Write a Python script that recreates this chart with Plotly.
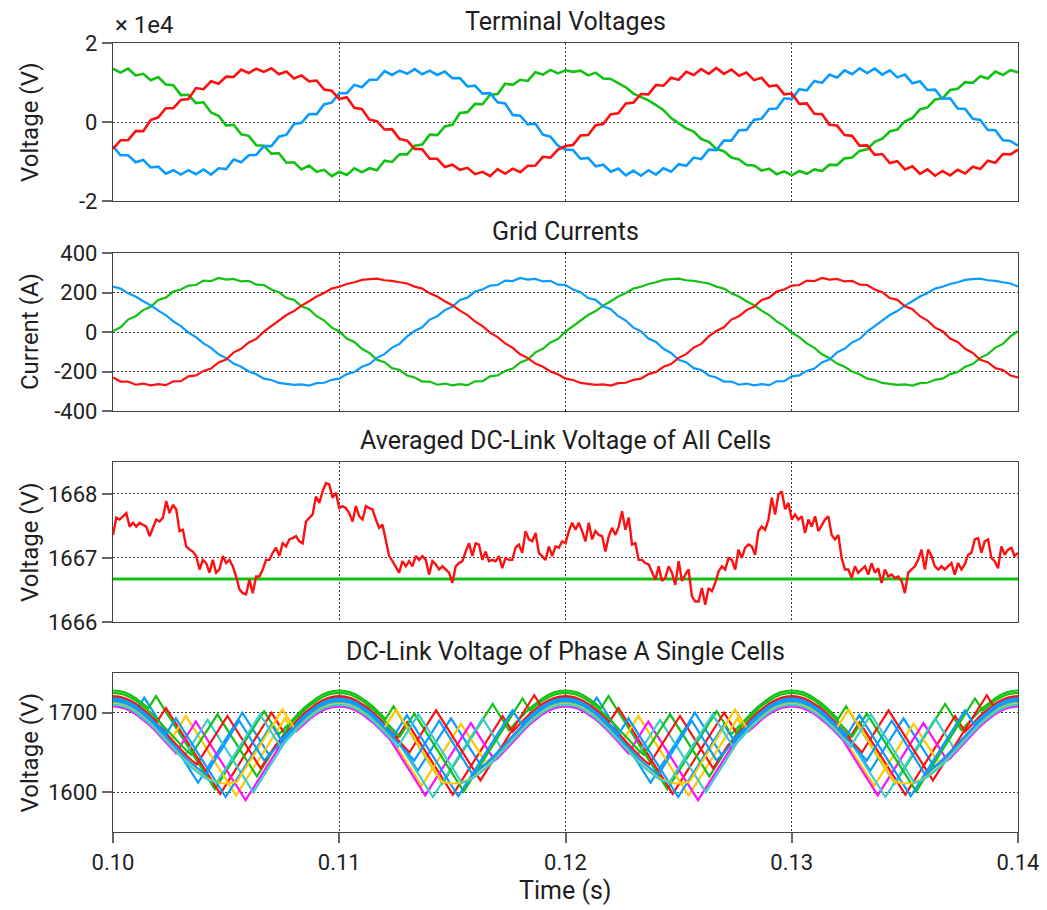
import numpy as np
import plotly.graph_objects as go
from plotly.subplots import make_subplots

# ---------------- data ----------------
# Panel 1: terminal voltages (units of 1e4 V), sampled every 1/3000 s from 0.10 to 0.14
VT_GREEN = [1.35,1.25,1.35,1.18,1.22,1.06,1.14,0.95,0.93,0.68,0.69,0.48,0.50,0.24,0.16,-0.09,-0.07,-0.31,-0.35,-0.59,
            -0.60,-0.80,-0.79,-1.03,-1.02,-1.20,-1.10,-1.26,-1.21,-1.37,-1.26,-1.34,-1.17,-1.27,-1.17,-1.22,-0.98,-1.01,-0.82,-0.82,
            -0.60,-0.57,-0.32,-0.33,-0.11,-0.07,0.23,0.25,0.46,0.45,0.69,0.71,0.97,0.94,1.07,1.04,1.26,1.20,1.32,1.23,
            1.31,1.27,1.30,1.18,1.25,1.10,1.09,0.98,0.88,0.72,0.63,0.55,0.43,0.30,0.10,-0.04,-0.16,-0.24,-0.43,-0.50,
            -0.68,-0.74,-0.90,-0.95,-1.09,-1.10,-1.23,-1.18,-1.32,-1.25,-1.35,-1.24,-1.31,-1.20,-1.24,-1.08,-1.09,-0.92,-0.90,-0.73,
            -0.69,-0.50,-0.42,-0.24,-0.19,0.02,0.10,0.32,0.37,0.57,0.60,0.81,0.84,1.01,0.99,1.16,1.10,1.28,1.19,1.31,
            1.26]
VT_RED = [-0.68,-0.46,-0.46,-0.23,-0.23,0.05,0.12,0.35,0.35,0.56,0.58,0.86,0.83,1.03,0.97,1.15,1.14,1.33,1.24,1.35,
          1.27,1.36,1.21,1.28,1.10,1.18,1.03,1.05,0.82,0.79,0.58,0.63,0.36,0.33,0.06,0.02,-0.19,-0.18,-0.43,-0.47,
          -0.68,-0.69,-0.93,-0.93,-1.14,-1.08,-1.21,-1.16,-1.32,-1.26,-1.37,-1.19,-1.31,-1.18,-1.27,-1.11,-1.10,-0.88,-0.90,-0.70,
          -0.61,-0.58,-0.34,-0.33,-0.08,-0.05,0.20,0.22,0.47,0.49,0.71,0.70,0.94,0.92,1.12,1.07,1.27,1.19,1.34,1.22,
          1.37,1.22,1.33,1.17,1.25,1.06,1.12,0.90,0.93,0.70,0.72,0.46,0.47,0.21,0.20,-0.07,-0.09,-0.33,-0.35,-0.60,
          -0.59,-0.83,-0.81,-1.04,-0.99,-1.20,-1.12,-1.31,-1.20,-1.36,-1.24,-1.35,-1.21,-1.30,-1.13,-1.19,-0.98,-1.03,-0.81,-0.82,
          -0.70]
VT_BLUE = [-0.61,-0.84,-0.84,-1.02,-0.96,-1.15,-1.13,-1.31,-1.22,-1.33,-1.22,-1.32,-1.20,-1.33,-1.17,-1.19,-0.95,-1.02,-0.84,-0.83,
           -0.61,-0.61,-0.37,-0.32,-0.05,-0.02,0.20,0.20,0.45,0.49,0.73,0.73,0.94,0.88,1.07,1.07,1.29,1.19,1.30,1.22,
           1.34,1.21,1.30,1.19,1.28,1.11,1.11,0.90,0.92,0.72,0.73,0.50,0.47,0.18,0.16,-0.06,-0.04,-0.32,-0.37,-0.60,
           -0.70,-0.71,-0.93,-0.91,-1.12,-1.08,-1.26,-1.18,-1.35,-1.23,-1.36,-1.22,-1.33,-1.17,-1.26,-1.07,-1.11,-0.90,-0.94,-0.70,
           -0.71,-0.47,-0.47,-0.21,-0.20,0.06,0.08,0.33,0.34,0.60,0.58,0.83,0.80,1.04,0.99,1.20,1.12,1.31,1.21,1.36,
           1.24,1.35,1.20,1.31,1.13,1.20,0.98,1.03,0.81,0.82,0.59,0.60,0.34,0.33,0.08,0.05,-0.20,-0.21,-0.46,-0.48,
           -0.60]

# Panel 2: grid currents (A), same sampling
IG_GREEN = [5,24,63,80,111,128,162,174,205,215,235,238,260,258,274,265,269,256,259,240,
            238,215,202,172,163,130,116,80,58,22,4,-33,-50,-85,-106,-141,-153,-183,-192,-220,
            -230,-251,-251,-267,-261,-270,-264,-269,-250,-249,-225,-220,-197,-185,-154,-139,-103,-85,-53,-35,
            2,30,57,86,106,134,156,180,198,220,229,243,252,264,268,270,262,259,252,246,
            230,220,196,180,156,136,108,86,54,30,-3,-26,-58,-80,-113,-132,-160,-176,-200,-214,
            -236,-243,-258,-262,-268,-265,-271,-259,-257,-242,-236,-213,-203,-176,-162,-131,-112,-79,-60,-22,
            4]
IG_RED = [-230,-251,-251,-267,-261,-270,-264,-269,-250,-249,-225,-220,-197,-185,-154,-139,-103,-85,-53,-35,
          2,30,57,86,106,134,156,180,198,220,229,243,252,264,268,270,262,259,252,246,
          230,220,196,180,156,136,108,86,54,30,-3,-26,-58,-80,-113,-132,-160,-176,-200,-214,
          -236,-243,-258,-262,-268,-265,-271,-259,-257,-242,-236,-213,-203,-176,-162,-131,-112,-79,-60,-22,
          5,24,63,80,111,128,162,174,205,215,235,238,260,258,274,265,269,256,259,240,
          238,215,202,172,163,130,116,80,58,22,4,-33,-50,-85,-106,-141,-153,-183,-192,-220,
          -230]
IG_BLUE = [230,220,196,180,156,136,108,86,54,30,-3,-26,-58,-80,-113,-132,-160,-176,-200,-214,
           -236,-243,-258,-262,-268,-265,-271,-259,-257,-242,-236,-213,-203,-176,-162,-131,-112,-79,-60,-22,
           5,24,63,80,111,128,162,174,205,215,235,238,260,258,274,265,269,256,259,240,
           238,215,202,172,163,130,116,80,58,22,4,-33,-50,-85,-106,-141,-153,-183,-192,-220,
           -230,-251,-251,-267,-261,-270,-264,-269,-250,-249,-225,-220,-197,-185,-154,-139,-103,-85,-53,-35,
           2,30,57,86,106,134,156,180,198,220,229,243,252,264,268,270,262,259,252,246,
           230]

# Panel 3: averaged DC-link voltage (V), evenly sampled over 0.10..0.14
AVG_RED = [1667.36,1667.63,1667.60,1667.65,1667.70,1667.49,1667.55,1667.49,1667.55,1667.52,1667.49,1667.34,1667.47,1667.60,1667.57,1667.63,1667.89,1667.70,1667.83,1667.76,
           1667.42,1667.44,1667.18,1667.13,1667.10,1667.03,1666.82,1666.97,1666.92,1666.77,1666.97,1666.77,1666.82,1667.03,1666.92,1666.97,1666.87,1666.71,1666.51,1666.45,
           1666.43,1666.66,1666.45,1666.71,1666.71,1666.82,1666.97,1666.97,1667.08,1667.16,1667.03,1667.23,1667.18,1667.29,1667.31,1667.34,1667.26,1667.23,1667.57,1667.63,
           1667.68,1667.96,1667.86,1668.04,1668.17,1668.15,1667.94,1668.02,1667.78,1667.81,1667.78,1667.70,1667.57,1667.81,1667.65,1667.60,1667.81,1667.78,1667.76,1667.60,
           1667.47,1667.52,1667.29,1667.03,1666.95,1666.87,1666.77,1666.95,1666.87,1666.95,1666.87,1667.03,1666.97,1667.03,1666.97,1666.74,1666.95,1666.90,1666.82,1666.87,
           1666.82,1666.77,1666.61,1666.87,1666.92,1666.95,1667.10,1667.23,1667.03,1667.23,1667.21,1666.97,1667.10,1666.95,1666.97,1666.95,1667.03,1666.84,1667.00,1666.97,
           1666.97,1667.16,1667.21,1667.08,1667.42,1667.29,1667.26,1667.39,1667.08,1667.03,1666.97,1667.18,1667.03,1667.18,1667.16,1667.26,
           1667.23,1667.42,1667.55,1667.44,1667.55,1667.42,1667.26,1667.55,1667.29,1667.42,1667.36,1667.34,1667.10,1667.34,1667.47,1667.36,1667.49,1667.73,1667.44,1667.63,
           1667.21,1667.23,1666.97,1666.97,1666.92,1666.90,1666.77,1666.66,1666.87,1666.64,1666.69,1666.87,1666.77,1666.58,1666.95,1666.64,1666.74,1666.82,1666.40,1666.32,
           1666.32,1666.53,1666.27,1666.53,1666.48,1666.61,1666.79,1666.87,1666.82,1667.00,1666.97,1666.82,1667.13,1667.00,1667.16,1667.21,1667.18,1667.05,1667.42,1667.49,
           1667.44,1667.60,1667.94,1667.68,1667.99,1668.04,1667.76,1667.86,1667.60,1667.68,1667.60,1667.65,1667.39,1667.60,1667.49,1667.65,1667.42,1667.52,1667.60,1667.65,
           1667.36,1667.29,1667.36,1667.00,1666.82,1666.82,1666.69,1666.87,1666.77,1666.82,1666.87,1666.74,1666.92,1666.77,1666.84,1666.61,1666.82,1666.71,1666.74,1666.69,
           1666.71,1666.64,1666.45,1666.77,1666.82,1666.87,1666.97,1667.13,1666.82,1667.13,1667.03,1666.87,1666.82,1666.87,1666.82,1666.87,1666.92,1666.74,1666.92,1666.82,
           1666.90,1667.05,1667.08,1667.29,1667.31,1667.08,1667.26,1667.29,1667.00,1666.95,1666.84,1667.18,1667.05,1667.13,1667.16,1667.03,1667.08]
AVG_REF_T = [0.10, 0.14]
AVG_REF_V = [1666.67, 1666.67]

# Panel 4: single-cell DC-link voltages of phase A
DIP_CENTER_MS = [105, 115, 125, 135]
DIP_PATTERN = ["A", "B", "A", "B"]
ENV_TAU_MS = [0, 0.25, 0.5, 0.75, 1.0, 1.25, 1.5, 1.75, 2.0, 2.25, 2.5, 2.75, 3.0, 3.25, 3.5, 3.75, 4.0, 4.25, 4.5, 4.75, 5.0]
ENV_DROP_V = [0, 0.6, 2.4, 5.4, 9.5, 14.6, 20.6, 27.3, 34.5, 42.2, 50.0, 57.8, 65.5, 72.7, 79.4, 85.4, 90.5, 95.0, 97.6, 99.4, 100.0]
CELL_COLORS = ["#0a9bff", "#12c212", "#ff1010", "#ffc800", "#ff10ff", "#3ccccc",
               "#12c212", "#ff1010", "#0a9bff", "#ffc800", "#0a9bff", "#3ccccc"]
CELL_PEAK_V = [1716, 1728, 1721, 1713, 1708, 1712, 1725, 1719, 1718, 1711, 1715, 1710]
TENT_A = [
    [(-3.93, 1705), (-3.62, 1719), (-1.24, 1612), (0.72, 1700), (1.90, 1647)],
    [(-3.43, 1706), (-3.10, 1721), (-0.50, 1604), (1.68, 1702), (2.33, 1673)],
    [(-3.05, 1689), (-2.66, 1706), (-0.26, 1598), (2.01, 1700), (2.58, 1674)],
    [(-2.50, 1663), (-1.78, 1696), (0.44, 1596), (2.60, 1693), (2.95, 1677)],
    [(-2.22, 1649), (-1.34, 1689), (0.86, 1590), (2.95, 1684), (3.10, 1677)],
    [(-1.87, 1644), (-0.82, 1691), (1.20, 1600), (2.75, 1670)],
    [(-1.54, 1647), (-0.38, 1698), (1.36, 1620), (2.83, 1686)],
    [(-1.30, 1635), (0.06, 1696), (1.53, 1630), (2.18, 1659)],
    [(-2.66, 1673), (-2.22, 1693), (-0.02, 1594), (2.00, 1685), (2.45, 1665)],
    [(0.47, 1613), (2.49, 1704), (3.05, 1679)],
    [(-0.90, 1622), (0.58, 1690), (1.68, 1640)],
    [(-0.42, 1612), (1.50, 1698), (2.41, 1657)],
]
TENT_B = [
    [(-2.18, 1656), (-1.53, 1627), (-0.06, 1693), (1.30, 1632)],
    [(-2.95, 1692), (-2.60, 1708), (-0.44, 1611), (1.78, 1711), (2.50, 1678)],
    [(-2.45, 1668), (-2.00, 1688), (0.02, 1597), (2.22, 1696), (2.66, 1676)],
    [(-2.83, 1674), (-1.36, 1608), (0.38, 1686), (1.54, 1635)],
    [(-2.75, 1666), (-1.20, 1596), (0.82, 1687), (1.87, 1640)],
    [(-3.10, 1681), (-2.95, 1688), (-0.86, 1594), (1.34, 1693), (2.22, 1653)],
    [(-2.33, 1670), (-1.68, 1699), (0.50, 1601), (3.10, 1718), (3.43, 1703)],
    [(-1.90, 1650), (-0.72, 1703), (1.24, 1615), (3.62, 1722), (3.93, 1708)],
    [(-2.58, 1671), (-2.01, 1697), (0.26, 1595), (2.66, 1703), (3.05, 1686)],
    [(-3.05, 1679), (-2.49, 1704), (-0.47, 1613)],
    [(-1.68, 1640), (-0.58, 1690), (0.90, 1622)],
    [(-2.41, 1657), (-1.50, 1698), (0.42, 1612)],
]

X_TICKS = [0.10, 0.11, 0.12, 0.13, 0.14]
X_TICK_TEXT = ["0.10", "0.11", "0.12", "0.13", "0.14"]
TITLES = ["Terminal Voltages", "Grid Currents", "Averaged DC-Link Voltage of All Cells",
          "DC-Link Voltage of Phase A Single Cells"]
Y_TITLES = ["Voltage (V)", "Current (A)", "Voltage (V)", "Voltage (V)"]

RED, GREEN, BLUE = "#ff1010", "#12c212", "#0a9bff"


def build_cell(i):
    peak = CELL_PEAK_V[i]
    ts, vs = [], []
    for c, pat in zip(DIP_CENTER_MS, DIP_PATTERN):
        verts = TENT_A[i] if pat == "A" else TENT_B[i]
        d_first, d_last = verts[0][0], verts[-1][0]
        for tau, drop in zip(ENV_TAU_MS, ENV_DROP_V):
            d = -5.0 + tau
            if d < d_first:
                ts.append(c + d); vs.append(peak - drop)
        for d, v in verts:
            ts.append(c + d); vs.append(v)
        for tau, drop in zip(ENV_TAU_MS[::-1], ENV_DROP_V[::-1]):
            d = 5.0 - tau
            if d > d_last:
                ts.append(c + d); vs.append(peak - drop)
    out_t, out_v = [], []
    for t, v in zip(ts, vs):
        if out_t and abs(t - out_t[-1]) < 1e-9:
            continue
        out_t.append(t); out_v.append(v)
    return [t / 1000.0 for t in out_t], out_v


# ---------------- figure ----------------
FONT = "Roboto"
TXT = "#1e1e1e"
fig = make_subplots(rows=4, cols=1, shared_xaxes=True, vertical_spacing=0.05)

t12 = np.linspace(0.10, 0.14, len(VT_GREEN))
for vals, col in [(VT_GREEN, GREEN), (VT_BLUE, BLUE), (VT_RED, RED)]:
    fig.add_trace(go.Scatter(x=t12, y=vals, mode="lines", line=dict(color=col, width=2.6),
                             showlegend=False, hoverinfo="skip"), row=1, col=1)
for vals, col in [(IG_GREEN, GREEN), (IG_BLUE, BLUE), (IG_RED, RED)]:
    fig.add_trace(go.Scatter(x=t12, y=vals, mode="lines", line=dict(color=col, width=2.2),
                             showlegend=False, hoverinfo="skip"), row=2, col=1)

t3 = np.linspace(0.10, 0.14, len(AVG_RED))
fig.add_trace(go.Scatter(x=AVG_REF_T, y=AVG_REF_V, mode="lines", line=dict(color=GREEN, width=3),
                         showlegend=False, hoverinfo="skip"), row=3, col=1)
fig.add_trace(go.Scatter(x=t3, y=AVG_RED, mode="lines", line=dict(color=RED, width=2.4),
                         showlegend=False, hoverinfo="skip"), row=3, col=1)

for i in range(len(CELL_PEAK_V)):
    tx, vy = build_cell(i)
    fig.add_trace(go.Scatter(x=tx, y=vy, mode="lines", line=dict(color=CELL_COLORS[i], width=2.2),
                             showlegend=False, hoverinfo="skip"), row=4, col=1)

domains = [[0.7997, 1.0], [0.5336, 0.7338], [0.2662, 0.4690], [0.0, 0.2015]]
yranges = [[-2, 2], [-400, 400], [1666, 1668.5], [1550, 1750]]
yticks = [[-2, 0, 2], [-400, -200, 0, 200, 400], [1666, 1667, 1668], [1600, 1700]]
yticktext = [["-2", "0", "2"], ["-400", "-200", "0", "200", "400"], ["1666", "1667", "1668"], ["1600", "1700"]]

grid = dict(showgrid=True, gridcolor="#3a3a3a", gridwidth=1, griddash="2px,2px")
frame = dict(showline=True, mirror=True, linecolor="#444444", linewidth=1.3, zeroline=False)

for r in range(4):
    xa = "xaxis" if r == 0 else f"xaxis{r+1}"
    ya = "yaxis" if r == 0 else f"yaxis{r+1}"
    fig.layout[xa].update(range=[0.10, 0.14], tickvals=X_TICKS, ticktext=X_TICK_TEXT,
                          showticklabels=(r == 3), ticks="outside" if r == 3 else "",
                          ticklen=10, tickcolor="#666666", tickwidth=1.5,
                          tickfont=dict(family=FONT, size=22, color=TXT), **grid, **frame)
    fig.layout[ya].update(domain=domains[r], range=yranges[r], tickvals=yticks[r], ticktext=yticktext[r],
                          ticks="outside", ticklen=10, tickcolor="#666666", tickwidth=1.5,
                          tickfont=dict(family=FONT, size=22, color=TXT), **grid, **frame)

ann = []
for r in range(4):
    d0, d1 = domains[r]
    ann.append(dict(text=TITLES[r], xref="paper", yref="paper", x=0.5, y=d1, xanchor="center",
                    yanchor="bottom", yshift=5, showarrow=False,
                    font=dict(family=FONT, size=25, color=TXT)))
    ann.append(dict(text=Y_TITLES[r], xref="paper", yref="paper", x=0, y=(d0 + d1) / 2, xshift=-83,
                    xanchor="center", yanchor="middle", textangle=-90, showarrow=False,
                    font=dict(family=FONT, size=24, color=TXT)))
ann.append(dict(text="× 1e4", xref="paper", yref="paper", x=0, y=1, xanchor="left", yanchor="bottom",
                yshift=2, showarrow=False, font=dict(family=FONT, size=24, color=TXT)))
ann.append(dict(text="Time (s)", xref="paper", yref="paper", x=0.5, y=0, yshift=-58, xanchor="center",
                yanchor="middle", showarrow=False, font=dict(family=FONT, size=25, color=TXT)))

fig.update_layout(width=1047, height=910, autosize=False, margin=dict(l=105, r=37, t=35, b=86),
                  paper_bgcolor="white", plot_bgcolor="white", annotations=ann,
                  font=dict(family=FONT, size=20, color=TXT))

fig.write_html("out.html")
